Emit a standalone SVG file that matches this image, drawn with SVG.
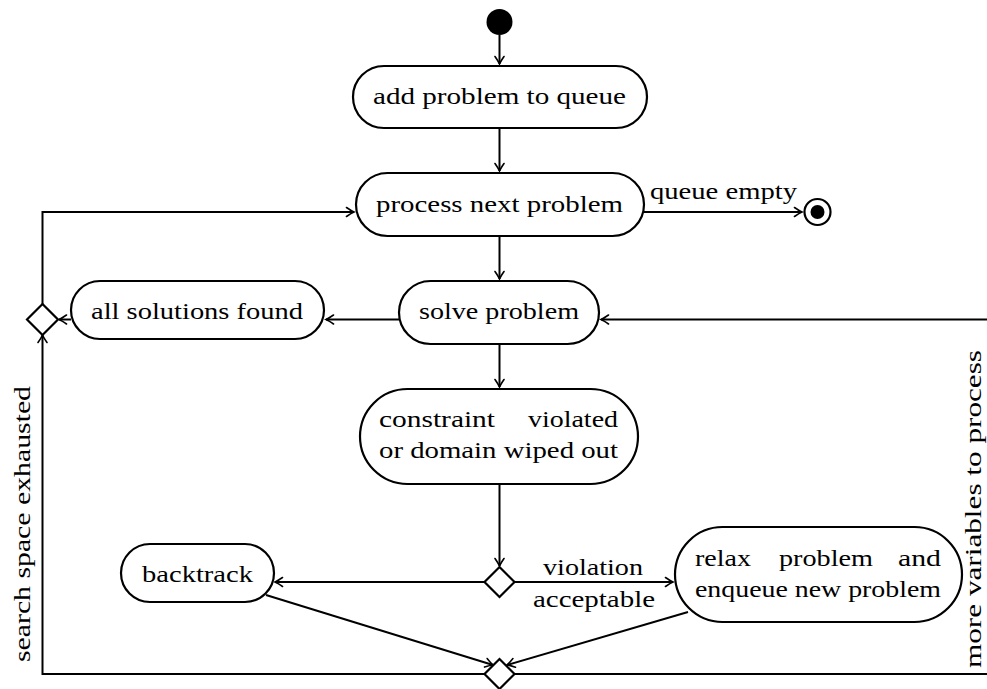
<svg xmlns="http://www.w3.org/2000/svg" width="987" height="689" viewBox="0 0 987 689">
  <style>
    .box { fill: #fff; stroke: #000; stroke-width: 2.2; }
    .dia { fill: #fff; stroke: #000; stroke-width: 2.2; }
    .edge { fill: none; stroke: #000; stroke-width: 2; marker-end: url(#arr); }
    text { font-family: "Liberation Serif", "DejaVu Serif", serif; font-size: 24px; fill: #000; }
    .c { text-anchor: middle; }
    .e { text-anchor: end; }
  </style>
  <defs>
    <marker id="arr" viewBox="-10 -6 12 12" refX="0" refY="0" markerWidth="12" markerHeight="12" orient="auto" markerUnits="userSpaceOnUse">
      <path d="M-7.5,-4.5 Q-2.5,-1 0,0 Q-2.5,1 -7.5,4.5" fill="none" stroke="#000" stroke-width="1.6" stroke-linecap="round"/>
    </marker>
  </defs>

  <!-- connectors and their labels -->
  <g id="connectors">
    <path class="edge" d="M499.5,35 V64"/>
    <path class="edge" d="M499.5,128 V171"/>
    <path class="edge" d="M644,212 H802"/>
    <path class="edge" d="M499.5,236 V279"/>
    <path class="edge" d="M399,319.5 H326"/>
    <path class="edge" d="M71,319.5 H59"/>
    <path class="edge" d="M42.5,304 V212 H354"/>
    <path class="edge" d="M499.5,344 V387"/>
    <path class="edge" d="M499.5,484 V566"/>
    <path class="edge" d="M484,582 H275"/>
    <path class="edge" d="M514,582 H673"/>
    <path class="edge" d="M266,595 L493,665"/>
    <path class="edge" d="M688,612 L507,665"/>
    <path class="edge" d="M484,674 H42.5 V335"/>
    <path class="edge" d="M514,674 H990 V319.5 H601"/>
    <text x="723.5" y="199" class="c" textLength="147" lengthAdjust="spacingAndGlyphs">queue empty</text>
    <text x="593" y="575" class="c" textLength="100" lengthAdjust="spacingAndGlyphs">violation</text>
    <text x="594" y="607" class="c" textLength="122" lengthAdjust="spacingAndGlyphs">acceptable</text>
    <text transform="translate(30,524) rotate(-90)" class="c" textLength="276" lengthAdjust="spacingAndGlyphs">search space exhausted</text>
    <text transform="translate(981,509) rotate(-90)" class="c" textLength="318" lengthAdjust="spacingAndGlyphs">more variables to process</text>
  </g>

  <!-- initial and final states -->
  <g id="start">
    <circle cx="499.5" cy="22" r="13" fill="#000"/>
  </g>
  <g id="end">
    <circle cx="817.5" cy="212" r="13" fill="#fff" stroke="#000" stroke-width="2.2"/>
    <circle cx="817.5" cy="212" r="7" fill="#000"/>
  </g>

  <!-- actions -->
  <g id="add-problem">
    <rect class="box" x="353" y="66" width="294" height="62" rx="31"/>
    <text x="499.5" y="104" class="c" textLength="253" lengthAdjust="spacingAndGlyphs">add problem to queue</text>
  </g>
  <g id="process-next">
    <rect class="box" x="356" y="173" width="288" height="63" rx="31.5"/>
    <text x="499.5" y="212" class="c" textLength="247" lengthAdjust="spacingAndGlyphs">process next problem</text>
  </g>
  <g id="solve">
    <rect class="box" x="399" y="281" width="200" height="63" rx="31.5"/>
    <text x="499" y="319" class="c" textLength="160" lengthAdjust="spacingAndGlyphs">solve problem</text>
  </g>
  <g id="all-solutions">
    <rect class="box" x="71" y="281" width="253" height="58" rx="29"/>
    <text x="197" y="319" class="c" textLength="212" lengthAdjust="spacingAndGlyphs">all solutions found</text>
  </g>
  <g id="constraint">
    <rect class="box" x="360" y="389" width="278" height="95" rx="47.5"/>
    <text x="379" y="427" textLength="116" lengthAdjust="spacingAndGlyphs">constraint</text>
    <text x="618" y="427" class="e" textLength="90" lengthAdjust="spacingAndGlyphs">violated</text>
    <text x="379" y="458" textLength="239" lengthAdjust="spacingAndGlyphs">or domain wiped out</text>
  </g>
  <g id="backtrack">
    <rect class="box" x="121" y="544" width="153" height="58" rx="29"/>
    <text x="197.5" y="582" class="c" textLength="111" lengthAdjust="spacingAndGlyphs">backtrack</text>
  </g>
  <g id="relax">
    <rect class="box" x="675" y="527" width="287" height="95" rx="47.5"/>
    <text x="695" y="566" textLength="56" lengthAdjust="spacingAndGlyphs">relax</text>
    <text x="779" y="566" textLength="94" lengthAdjust="spacingAndGlyphs">problem</text>
    <text x="941" y="566" class="e" textLength="43" lengthAdjust="spacingAndGlyphs">and</text>
    <text x="695" y="597" textLength="246" lengthAdjust="spacingAndGlyphs">enqueue new problem</text>
  </g>

  <!-- decision and merge nodes -->
  <g id="decision-left">
    <polygon class="dia" points="42.5,304 58,319.5 42.5,335 27,319.5"/>
  </g>
  <g id="decision-violation">
    <polygon class="dia" points="499.5,567 514.5,582 499.5,597 484.5,582"/>
  </g>
  <g id="merge-bottom">
    <polygon class="dia" points="499.5,659 514.5,674 499.5,689 484.5,674"/>
  </g>
</svg>
